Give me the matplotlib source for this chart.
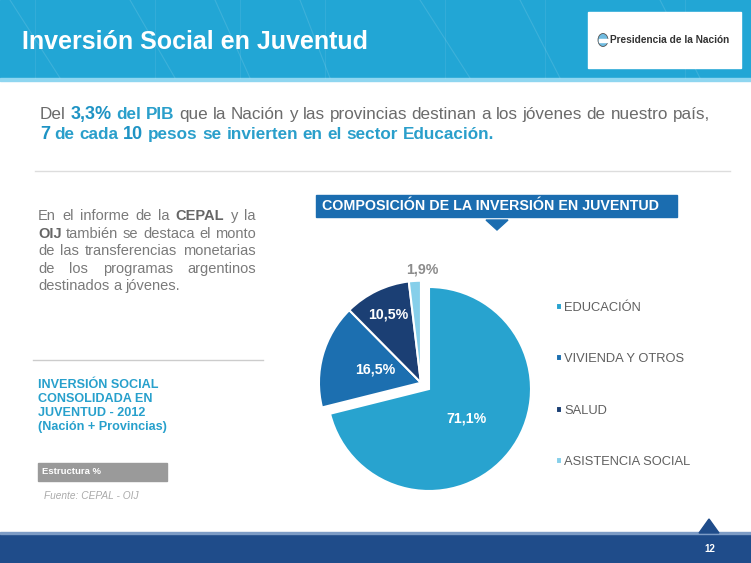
import matplotlib
matplotlib.use("Agg")
import numpy as np
import matplotlib.pyplot as plt
from matplotlib.patches import Rectangle, Polygon, Ellipse

plt.rcParams['font.family'] = ['Liberation Sans', 'DejaVu Sans']

# data
sectors = ["EDUCACIÓN", "VIVIENDA Y OTROS", "SALUD", "ASISTENCIA SOCIAL"]
shares = [71.1, 16.5, 10.5, 1.9]
colors = ["#28a3cf", "#1c6fb0", "#1b3f74", "#86cfea"]

title = "Inversión Social en Juventud"
chart_title = "COMPOSICIÓN DE LA INVERSIÓN EN JUVENTUD"
logo_text = "Presidencia de la Nación"
page = "12"

GREY = "#6b6b6b"
BLUE = "#2a9fcb"
DBLUE = "#1e93c4"

W, H = 751, 563
fig = plt.figure(figsize=(W / 100, H / 100), dpi=100)
bg = fig.add_axes([0, 0, 1, 1])
bg.set_xlim(0, W)
bg.set_ylim(H, 0)
bg.axis("off")
renderer = fig.canvas.get_renderer()


def width_of(s, size, weight):
    t = bg.text(0, 0, s, fontsize=size, weight=weight)
    w = t.get_window_extent(renderer).width
    t.remove()
    return w


def draw_line(x, y, parts, size, justify=None):
    # parts: list of (text, weight, color[, size])
    words = []
    for p in parts:
        sz = p[3] if len(p) > 3 else size
        for wd in p[0].split():
            words.append((wd, p[1], p[2], sz))
    widths = [width_of(w[0], w[3], w[1]) for w in words]
    gap = 0.278 * size * 100 / 72
    if justify is not None and len(words) > 1:
        gap = (justify - sum(widths)) / (len(words) - 1)
    cx = x
    for (wd, wt, col, sz), w in zip(words, widths):
        bg.text(cx, y, wd, fontsize=sz, weight=wt, color=col, va="baseline", ha="left")
        cx += w + gap


# header band
bg.add_patch(Rectangle((0, 0), W, 80, color="#22a6d5", zorder=0))
bg.add_patch(Rectangle((0, 78), W, 2.5, color="#8fd6f0", zorder=1))
for x0, x1 in [(10, 60), (130, 175), (215, 250), (300, 330), (420, 470), (520, 560), (660, 700)]:
    bg.plot([x0, x1], [0, 78], color="white", alpha=0.12, lw=0.8)
    bg.plot([x0 + 25, x0 + 25], [0, 78], color="white", alpha=0.08, lw=0.8)
bg.text(22, 49, title, fontsize=18, weight="bold", color="white", va="baseline")

# logo box
bg.add_patch(Rectangle((588, 12), 153, 56, color="white", zorder=2))
bg.add_patch(Ellipse((603, 40), 10, 13, facecolor="#6fbbe0", edgecolor="#555555", lw=0.6, zorder=3))
bg.add_patch(Rectangle((598.5, 38.5), 9, 3, color="white", zorder=4))
bg.text(610, 40, logo_text, fontsize=7.3, weight="bold", color="#333333", va="center", zorder=5)

# subtitle
draw_line(40, 119, [("Del", "normal", GREY), ("3,3%", "bold", DBLUE, 13), ("del PIB", "bold", BLUE),
                    ("que la Nación y las provincias destinan a los jóvenes de nuestro país,", "normal", GREY)], 12.3)
draw_line(40, 139, [("7", "bold", DBLUE, 13), ("de cada", "bold", BLUE), ("10", "bold", DBLUE, 13),
                    ("pesos se invierten en el sector Educación.", "bold", BLUE)], 12.3)
bg.plot([35, 730], [171, 171], color="#dddddd", lw=1)

# left paragraph
para = [
    [("En el informe de la", "normal", "#7a7a7a"), ("CEPAL", "bold", "#666666"), ("y la", "normal", "#7a7a7a")],
    [("OIJ", "bold", "#666666"), ("también se destaca el monto", "normal", "#7a7a7a")],
    [("de las transferencias monetarias", "normal", "#7a7a7a")],
    [("de los programas argentinos", "normal", "#7a7a7a")],
]
for i, line in enumerate(para):
    draw_line(38, 220 + i * 17.6, line, 10.5, justify=218)
draw_line(38, 220 + 4 * 17.6, [("destinados a jóvenes.", "normal", "#7a7a7a")], 10.5)
bg.plot([33, 263], [360, 360], color="#cccccc", lw=1)

for i, s in enumerate(["INVERSIÓN SOCIAL", "CONSOLIDADA EN", "JUVENTUD - 2012", "(Nación + Provincias)"]):
    bg.text(38, 388 + i * 14, s, fontsize=9.1, weight="bold", color="#27a0cc", va="baseline")

bg.add_patch(Rectangle((38, 463), 129, 18, color="#9a9a9a"))
bg.text(42, 472, "Estructura %", fontsize=6.8, weight="bold", color="white", va="center")
bg.text(44, 496, "Fuente: CEPAL - OIJ", fontsize=7.3, style="italic", color="#aaaaaa", va="center")

# chart title box
bg.add_patch(Rectangle((316, 195), 361, 22, color="#1b6db0"))
bg.text(322, 206, chart_title, fontsize=10.3, weight="bold", color="white", va="center")
bg.add_patch(Polygon([(486, 220), (508, 220), (497, 230)], closed=True, color="#1b6db0"))

# footer
bg.add_patch(Rectangle((0, 533), W, 30, color="#1f4c8a"))
bg.add_patch(Rectangle((0, 532), W, 1.5, color="#7d9cc6"))
bg.add_patch(Polygon([(699, 533), (719, 533), (709, 519)], closed=True, color="#1f4c8a"))
bg.text(710, 549, page, fontsize=7, weight="bold", color="white", ha="center", va="center")

# pie
cx, cy, r, half = 429, 389, 102, 135
ax = fig.add_axes([(cx - half) / W, (H - cy - half) / H, 2 * half / W, 2 * half / H])

wedges, _, pcts = ax.pie(shares, colors=colors, startangle=90, counterclock=False, radius=1,
                         autopct=lambda p: f"{p:.1f}%".replace(".", ","),
                         wedgeprops=dict(edgecolor="white", linewidth=1.5),
                         textprops=dict(color="white", weight="bold", fontsize=10.2))
lim = half / r
ax.set_xlim(-lim, lim)
ax.set_ylim(-lim, lim)
ax.set_aspect("equal")
ax.axis("off")

group = wedges[1:]
lo = min(w.theta1 for w in group)
hi = max(w.theta2 for w in group)
mid = np.deg2rad((lo + hi) / 2)
off = 0.1
dx, dy = off * np.cos(mid), off * np.sin(mid)
dist = [0.47, 0.47, 0.74, 1.17]
for i, (w, t) in enumerate(zip(wedges, pcts)):
    ox, oy = (dx, dy) if i > 0 else (0, 0)
    w.set_center((ox, oy))
    a = np.deg2rad((w.theta1 + w.theta2) / 2)
    if i == 3:
        ox, oy = 0, 0  # outside label sits above the slice
    t.set_position((ox + dist[i] * np.cos(a), oy + dist[i] * np.sin(a)))
pcts[3].set_color("#8c8c8c")

fig.legend(wedges, sectors, loc="upper left", bbox_to_anchor=(556 / W, (H - 302) / H),
           frameon=False, fontsize=9.3, labelcolor="#5f5f5f", handlelength=0.5, handleheight=0.5,
           handletextpad=0.15, labelspacing=3.05, borderpad=0, borderaxespad=0)

fig.savefig("out.png", dpi=100)
